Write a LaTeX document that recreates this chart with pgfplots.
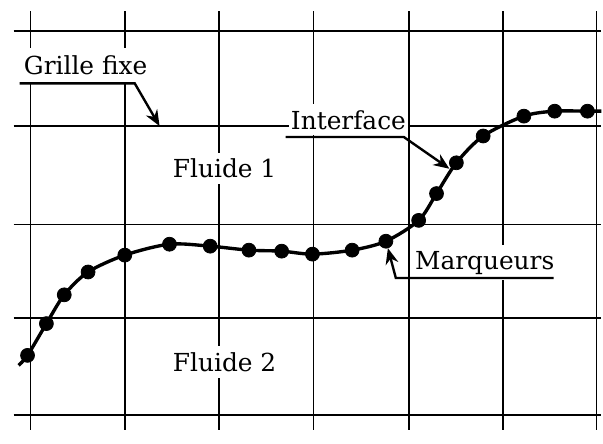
\documentclass[border=0pt]{standalone}
\usepackage{fontspec}
\setmainfont{DejaVu Serif}
\usepackage{pgfplots}
\pgfplotsset{compat=1.18}
\usetikzlibrary{arrows.meta}

\pgfplotstableread{
x y
16 65
25 75
44 107
62 136
86 159
123 176
168 187
209 185
248 181
281 180
312 177
352 181
386 190
419 211
437 238
457 269
484 296
525 316
556 321
589 321
603 321
}\interface

\pgfplotstableread{
x y
25 75
44 107
62 136
86 159
123 176
168 187
209 185
248 181
281 180
312 177
352 181
386 190
419 211
437 238
457 269
484 296
525 316
556 321
589 321
}\marqueurs

\begin{document}
\begin{tikzpicture}
\begin{axis}[
    scale only axis,
    width=296pt, height=211pt,
    xmin=11, xmax=603, ymin=0, ymax=422,
    xtick={28,123,218,313,409,504,598},
    ytick={15,113,207,306,402},
    xticklabels={}, yticklabels={},
    tick style={draw=none},
    axis line style={draw=none},
    grid=major,
    major grid style={black, line width=0.85pt},
    clip=false,
]
% interface line and markers
\addplot[black, line width=1.7pt, smooth, tension=0.5, no marks] table {\interface};
\addplot[only marks, mark=*, mark size=3.5pt, black] table {\marqueurs};

% labels
\node[anchor=base, fill=white, inner xsep=2pt, inner ysep=3pt, font=\fontsize{12.5}{14}\selectfont]
  at (axis cs:223.5,254) {Fluide 1};
\node[anchor=base, fill=white, inner xsep=2pt, inner ysep=3pt, font=\fontsize{12.5}{14}\selectfont]
  at (axis cs:223.5,59) {Fluide 2};

\node[anchor=base west, fill=white, inner xsep=2pt, inner ysep=4pt, font=\fontsize{12.5}{14}\selectfont]
  at (axis cs:17,358) {Grille fixe};
\draw[line width=1.2pt, -{Stealth[length=8pt, width=6.5pt]}]
  (axis cs:17,349) -- (axis cs:133,349) -- (axis cs:158,306);

\node[anchor=base west, fill=white, inner xsep=1pt, inner ysep=3pt, font=\fontsize{12.5}{14}\selectfont]
  at (axis cs:288,303) {Interface};
\draw[line width=1.2pt, -{Stealth[length=8pt, width=6.5pt]}]
  (axis cs:285,295) -- (axis cs:404,295) -- (axis cs:450,263);

\node[anchor=base west, fill=white, inner xsep=1pt, inner ysep=3pt, font=\fontsize{12.5}{14}\selectfont]
  at (axis cs:413,162) {Marqueurs};
\draw[line width=1.2pt, -{Stealth[length=8pt, width=6.5pt]}]
  (axis cs:555,153) -- (axis cs:396,153) -- (axis cs:388,183);

% keep the full page size
\path (axis cs:0,0) rectangle (axis cs:603,433);
\end{axis}
\end{tikzpicture}
\end{document}
